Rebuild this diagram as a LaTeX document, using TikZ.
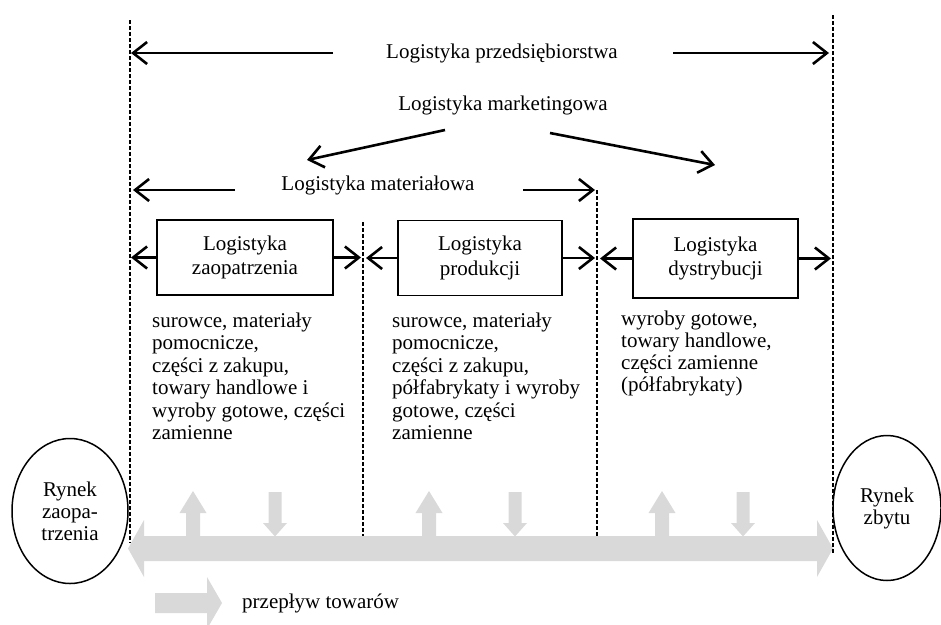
\documentclass[tikz,border=0pt]{standalone}
\usepackage{fontspec}
\setmainfont{Liberation Serif}
\usetikzlibrary{arrows.meta,shapes.geometric}
\definecolor{flowgrey}{HTML}{D9D9D9}
\begin{document}
\begin{tikzpicture}[x=1pt,y=-1pt,
  lbl/.style={font=\fontsize{21}{24}\selectfont, inner sep=0},
  bigarr/.style={line width=2.6pt, -{Straight Barb[length=14pt,width=22pt]}},
  divider/.style={line width=1.2pt, dash pattern=on 4pt off 2pt},
  boxnode/.style={draw, line width=1.3pt, align=center, inner sep=0, font=\fontsize{21}{24.5}\selectfont},
  coltext/.style={anchor=north west, align=left, inner sep=0, font=\fontsize{21}{22.5}\selectfont},
  market/.style={draw, ellipse, line width=1.5pt, align=center, inner sep=0, font=\fontsize{21}{22}\selectfont},
  flow/.style={fill=flowgrey, draw=none}
]
\useasboundingbox (0,0) rectangle (941,624);

% grey flow band (double arrow)
\fill[flow] (128,548.5) -- (144,520) -- (144,536) -- (817,536) -- (817,520) -- (833,548.5)
  -- (817,577) -- (817,561) -- (144,561) -- (144,577) -- cycle;
\foreach \cx in {193,429,662}
  \fill[flow] (\cx-7,537) -- (\cx-7,513) -- (\cx-13.5,513) -- (\cx,491) -- (\cx+13.5,513) -- (\cx+7,513) -- (\cx+7,537) -- cycle;
\foreach \cx in {275,515,743}
  \fill[flow] (\cx-6.5,492) -- (\cx+6.5,492) -- (\cx+6.5,523) -- (\cx+12,523) -- (\cx,536.5) -- (\cx-12,523) -- (\cx-6.5,523) -- cycle;
% legend arrow
\fill[flow] (155,593) -- (207,593) -- (207,577) -- (222,603) -- (207,629) -- (207,613) -- (155,613) -- cycle;
\node[lbl, anchor=west] (legend) at (242,603) {przepływ towarów};

% dashed dividers
\coordinate (dLa) at (130,20);  \coordinate (dLb) at (130,543);
\coordinate (dRa) at (833,15);  \coordinate (dRb) at (833,553);
\coordinate (dMa) at (363,222); \coordinate (dMb) at (363,536);
\coordinate (dNa) at (597,190); \coordinate (dNb) at (597,536);
\draw[divider] (dLa) -- (dLb);
\draw[divider] (dRa) -- (dRb);
\draw[divider] (dMa) -- (dMb);
\draw[divider] (dNa) -- (dNb);

% top labels
\node[lbl] (przed) at (502,53) {Logistyka przedsiębiorstwa};
\node[lbl] (mark) at (503,105) {Logistyka marketingowa};
\node[lbl] (mater) at (378,185) {Logistyka materiałowa};

\coordinate (pLs) at (333,53);  \coordinate (pLe) at (131,53);
\coordinate (pRs) at (673,53);  \coordinate (pRe) at (829,53);
\draw[bigarr] (pLs) -- (pLe);
\draw[bigarr] (pRs) -- (pRe);

\coordinate (mLs) at (445,130); \coordinate (mLe) at (307,160);
\coordinate (mRs) at (550,133); \coordinate (mRe) at (715,165);
\draw[bigarr] (mLs) -- (mLe);
\draw[bigarr] (mRs) -- (mRe);

\coordinate (tLs) at (235,190); \coordinate (tLe) at (133,190);
\coordinate (tRs) at (523,190); \coordinate (tRe) at (595,190);
\draw[bigarr] (tLs) -- (tLe);
\draw[bigarr] (tRs) -- (tRe);

% boxes
\node[boxnode, minimum width=176pt, minimum height=75pt] (b1) at (245,257.5) {Logistyka\\zaopatrzenia};
\node[boxnode, minimum width=164pt, minimum height=75pt] (b2) at (480,258) {Logistyka\\produkcji};
\node[boxnode, minimum width=165pt, minimum height=79pt] (b3) at (715.5,258.5) {Logistyka\\dystrybucji};

\coordinate (b1L) at (131,257.5); \coordinate (b1R) at (361,257.5);
\coordinate (b2L) at (366,258);   \coordinate (b2R) at (595,258);
\coordinate (b3L) at (600,258.5); \coordinate (b3R) at (831,258.5);
\draw[bigarr] (b1.west) -- (b1L);
\draw[bigarr] (b1.east) -- (b1R);
\draw[bigarr] (b2.west) -- (b2L);
\draw[bigarr] (b2.east) -- (b2R);
\draw[bigarr] (b3.west) -- (b3L);
\draw[bigarr] (b3.east) -- (b3R);

% column texts
\node[coltext] (c1) at (152,311.25) {\strut surowce, materiały\\pomocnicze,\\części z zakupu,\\towary handlowe i\\wyroby gotowe, części\\zamienne};
\node[coltext] (c2) at (392,311.25) {\strut surowce, materiały\\pomocnicze,\\części z zakupu,\\półfabrykaty i wyroby\\gotowe, części\\zamienne};
\node[coltext, font=\fontsize{21}{22}\selectfont] (c3) at (621,309.6) {\strut wyroby gotowe,\\towary handlowe,\\części zamienne\\(półfabrykaty)};

% markets
\node[market, minimum width=116pt, minimum height=145pt] (rz) at (70,511) {Rynek\\zaopa-\\trzenia};
\node[market, minimum width=108pt, minimum height=145pt] (rb) at (887,508) {Rynek\\zbytu};
\end{tikzpicture}
\end{document}
